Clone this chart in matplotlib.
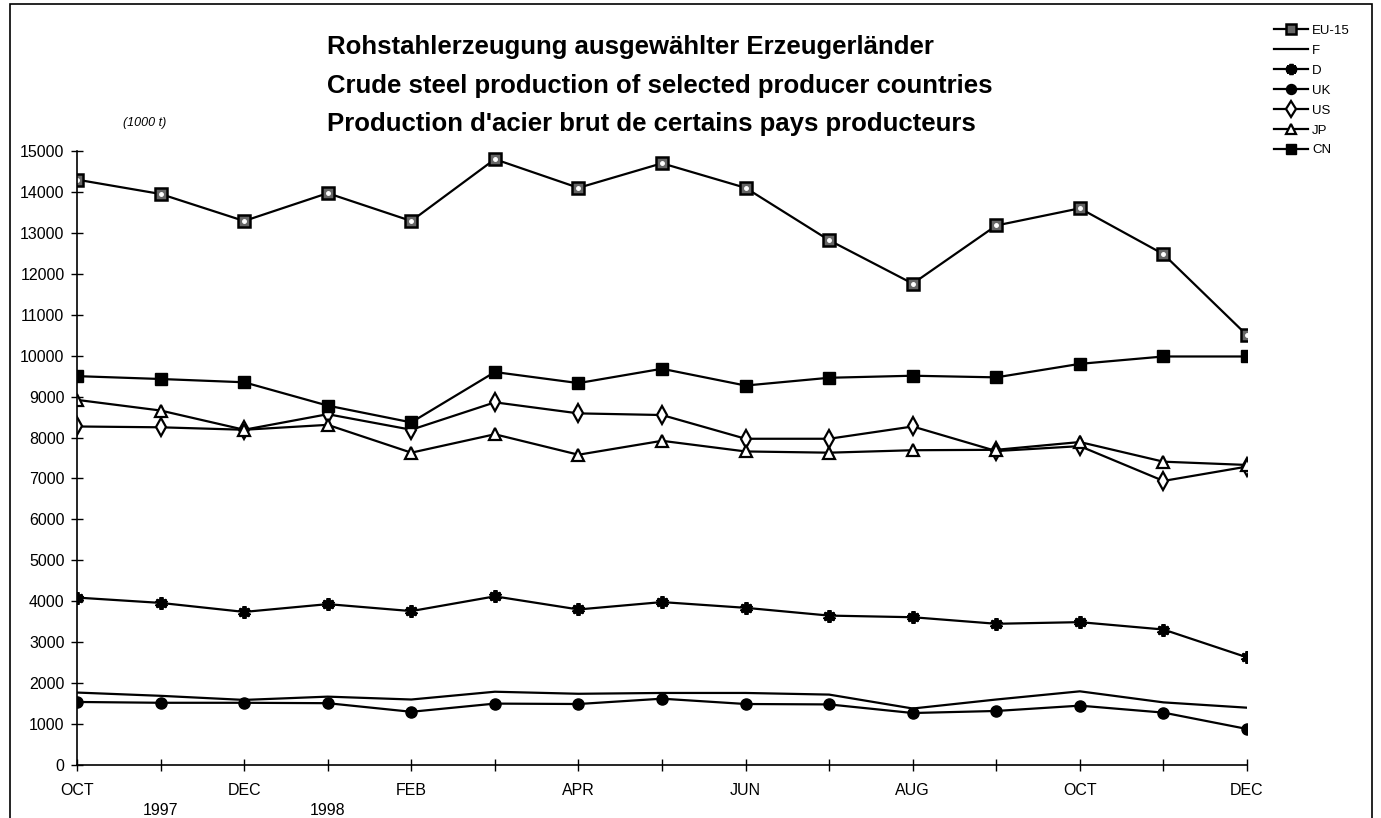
import matplotlib
matplotlib.use('Agg')
import matplotlib.pyplot as plt
import matplotlib.transforms as mtransforms
from matplotlib.patches import Rectangle

# Monthly crude steel production, Oct 1997 - Dec 1998 (1000 t)
months = ['OCT', 'NOV', 'DEC', 'JAN', 'FEB', 'MAR', 'APR', 'MAY',
          'JUN', 'JUL', 'AUG', 'SEP', 'OCT', 'NOV', 'DEC']
years = {1: '1997', 3: '1998'}

eu15 = [14300, 13950, 13290, 13970, 13290, 14800, 14100, 14700,
        14100, 12820, 11760, 13180, 13600, 12480, 10500]
fr = [1770, 1690, 1590, 1670, 1600, 1790, 1740, 1760,
      1760, 1720, 1380, 1600, 1800, 1530, 1400]
de = [4090, 3960, 3740, 3930, 3760, 4120, 3800, 3980,
      3840, 3650, 3610, 3450, 3490, 3310, 2630]
uk = [1540, 1520, 1520, 1510, 1300, 1500, 1490, 1620,
      1490, 1480, 1270, 1320, 1450, 1280, 880]
us = [8270, 8250, 8190, 8570, 8190, 8860, 8590, 8550,
      7970, 7970, 8270, 7670, 7790, 6940, 7290]
jp = [8920, 8660, 8190, 8310, 7630, 8080, 7580, 7920,
      7660, 7630, 7690, 7700, 7890, 7410, 7330]
cn = [9500, 9430, 9350, 8780, 8370, 9600, 9330, 9680,
      9270, 9460, 9510, 9470, 9800, 9980, 9980]

plt.rcParams['font.family'] = ['Liberation Sans', 'DejaVu Sans']

W, H = 1381, 818
fig = plt.figure(figsize=(W / 100, H / 100), dpi=100)
ax = fig.add_axes([77 / W, 53 / H, 1170 / W, 614 / H])

x = list(range(len(months)))
lw = 1.6
ax.plot(x, eu15, color='black', lw=lw, marker='s', ms=8, mfc='0.4',
        mec='black', mew=1.8, label='EU-15')
ax.plot(x, eu15, ls='none', marker='o', ms=2.5, mfc='white', mec='white')
ax.plot(x, fr, color='black', lw=lw, label='F')
ax.plot(x, de, color='black', lw=lw, marker=(6, 2, 0), ms=9, mew=2.8,
        label='D')
ax.plot(x, uk, color='black', lw=lw, marker='o', ms=8, label='UK')
ax.plot(x, us, color='black', lw=lw, marker='d', ms=9, mfc='white',
        mew=1.6, label='US')
ax.plot(x, jp, color='black', lw=lw, marker='^', ms=8, mfc='white',
        mew=1.6, label='JP')
ax.plot(x, cn, color='black', lw=lw, marker='s', ms=8, label='CN')

ax.set_xlim(0, len(months) - 1)
ax.set_ylim(0, 15000)
ax.set_yticks(range(0, 15001, 1000))
ax.set_xticks(x)
ax.set_xticklabels([m if i % 2 == 0 else '' for i, m in enumerate(months)])
for s in ['top', 'right']:
    ax.spines[s].set_visible(False)
for s in ['left', 'bottom']:
    ax.spines[s].set_linewidth(1.2)
ax.tick_params(axis='both', direction='inout', length=8, width=1,
               labelsize=11.5)
ax.tick_params(axis='y', pad=5)
ax.tick_params(axis='x', pad=9)

trans = mtransforms.blended_transform_factory(ax.transData, fig.transFigure)
for i, yr in years.items():
    ax.text(i, 1 - 803 / H, yr, transform=trans, ha='center', va='top',
            fontsize=11.5)

fig.text(145 / W, 1 - 123 / H, '(1000 t)', style='italic', fontsize=9,
         ha='center', va='center')

title_lines = ['Rohstahlerzeugung ausgewählter Erzeugerländer',
               'Crude steel production of selected producer countries',
               "Production d'acier brut de certains pays producteurs"]
for k, t in enumerate(title_lines):
    fig.text(327 / W, 1 - (47 + 38.5 * k) / H, t, fontsize=18.5,
             fontweight='bold', ha='left', va='center')

fig.legend(loc='upper left', bbox_to_anchor=(1262 / W, 1 - 13 / H),
           frameon=False, fontsize=9.5, handlelength=2.6, handletextpad=0.3,
           labelspacing=0.58, markerscale=0.9)

fig.patches.append(Rectangle((10 / W, -0.01), 1362 / W, 1.005,
                             transform=fig.transFigure, fill=False,
                             lw=1.2, color='black'))

fig.savefig('out.png', dpi=100)
